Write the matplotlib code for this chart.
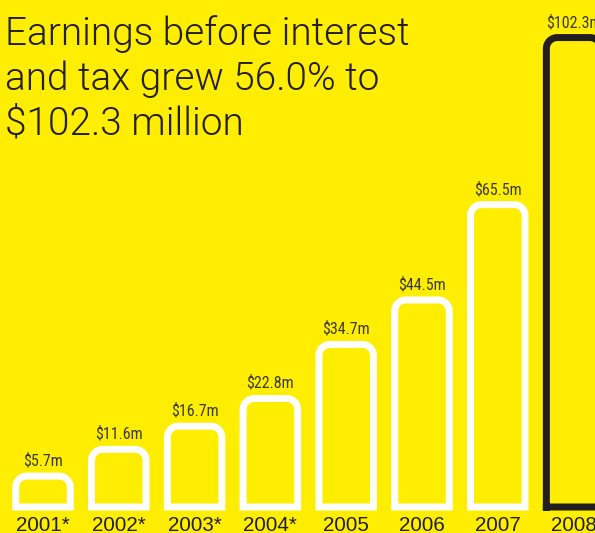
import matplotlib
matplotlib.use("Agg")
import matplotlib.pyplot as plt
from matplotlib.path import Path
from matplotlib.patches import PathPatch

years = ["2001*", "2002*", "2003*", "2004*", "2005", "2006", "2007", "2008"]
ebit = [5.7, 11.6, 16.7, 22.8, 34.7, 44.5, 65.5, 102.3]
value_labels = ["$5.7m", "$11.6m", "$16.7m", "$22.8m", "$34.7m", "$44.5m", "$65.5m", "$102.3m"]
title_lines = ["Earnings before interest", "and tax grew 56.0% to", "$102.3 million"]

BG = "#ffee00"
INK = "#231f20"
OUTLINE = "white"
HIGHLIGHT = INK

W, H, DPI = 595, 533, 100
fig = plt.figure(figsize=(W / DPI, H / DPI), dpi=DPI, facecolor=BG)
ax = fig.add_axes([0, 0, 1, 1])
ax.set_facecolor(BG)
ax.axis("off")

# scale: 75.8 px per bar slot, 4.54 px per $m
px_x, px_y = 75.8, 4.54
x0_pix, zero_pix = 43.0, 502.0
ax.set_xlim(-x0_pix / px_x, (W - x0_pix) / px_x)
ax.set_ylim((zero_pix - H) / px_y, zero_pix / px_y)

half_w = 27.25 / px_x
base = -5.0 / px_y
r_pix = 11.0
rx, ry = r_pix / px_x, r_pix / px_y
k = 0.5523


def rounded_top_bar(xc, top):
    l, r = xc - half_w, xc + half_w
    verts = [
        (l, base),
        (l, top - ry),
        (l, top - ry + k * ry), (l + rx - k * rx, top), (l + rx, top),
        (r - rx, top),
        (r - rx + k * rx, top), (r, top - ry + k * ry), (r, top - ry),
        (r, base),
        (l, base),
    ]
    codes = [Path.MOVETO, Path.LINETO,
             Path.CURVE4, Path.CURVE4, Path.CURVE4,
             Path.LINETO,
             Path.CURVE4, Path.CURVE4, Path.CURVE4,
             Path.LINETO, Path.CLOSEPOLY]
    return Path(verts, codes)


lw = 7.0 * 72 / DPI
for i, (yr, v, lab) in enumerate(zip(years, ebit, value_labels)):
    color = HIGHLIGHT if i == len(ebit) - 1 else OUTLINE
    patch = PathPatch(rounded_top_bar(i, v), facecolor="none", edgecolor=color,
                      linewidth=lw, joinstyle="miter", capstyle="projecting")
    ax.add_patch(patch)
    ax.annotate(lab, (i, v), xytext=(0, 10.5 * 72 / DPI), textcoords="offset points",
                ha="center", va="baseline", fontsize=11.5, color="#3a3a30",
                family=["Roboto Condensed", "Archivo Narrow", "Liberation Sans"],
                weight=400)
    ax.text(i, (zero_pix - 531) / px_y, yr, ha="center", va="baseline",
            fontsize=14.8, color=INK, family=["Liberation Sans", "DejaVu Sans"])

# headline, sized so the first line spans about 405 px
title_font = dict(family=["Roboto", "Inter", "Liberation Sans"], weight=300)
renderer = fig.canvas.get_renderer()
probe = fig.text(0, 0, title_lines[0], fontsize=28, **title_font)
wpx = probe.get_window_extent(renderer).width
probe.remove()
tsize = 28 * 404 / wpx
for j, line in enumerate(title_lines):
    fig.text(5 / W, 1 - (45 + 45 * j) / H, line, ha="left", va="baseline",
             fontsize=tsize, color=INK, **title_font)

fig.savefig("out.png", dpi=DPI, facecolor=BG)
